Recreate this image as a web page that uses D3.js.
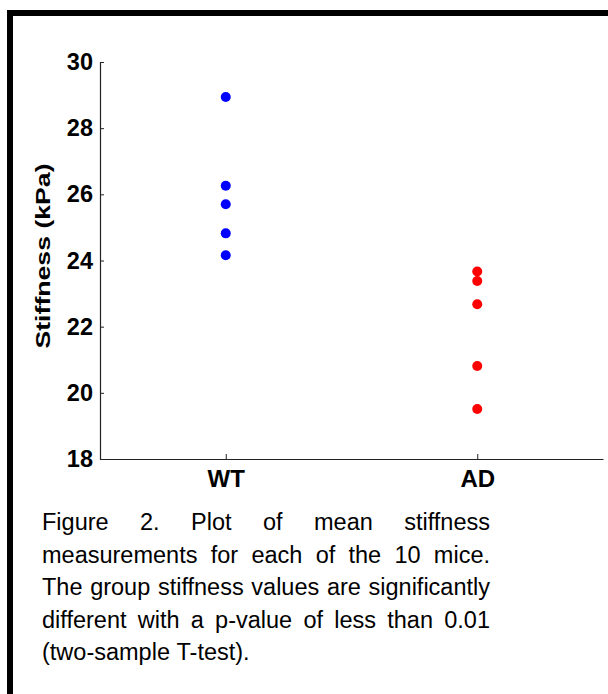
<!DOCTYPE html>
<html><head><meta charset="utf-8">
<script src="https://cdn.jsdelivr.net/npm/d3@7/dist/d3.min.js"></script>
<style>body{margin:0;background:#fff}svg{display:block}</style>
</head><body><svg id="c" width="608" height="694"></svg>
<script>
const categories = ["WT", "AD"];
const wtValues = [28.94, 26.26, 25.70, 24.82, 24.16];
const adValues = [23.67, 23.38, 22.68, 20.81, 19.51];
const yTicks = [18, 20, 22, 24, 26, 28, 30];
const yLabel = "Stiffness (kPa)";
const captionLines = [
  "Figure 2. Plot of mean stiffness",
  "measurements for each of the 10 mice.",
  "The group stiffness values are significantly",
  "different with a p-value of less than 0.01",
  "(two-sample T-test)."
];

const svg = d3.select("#c");
// frame
svg.append("rect").attr("x",7).attr("y",10).attr("width",601).attr("height",6).attr("fill","#000");
svg.append("rect").attr("x",7).attr("y",10).attr("width",6).attr("height",684).attr("fill","#000");

const x = d3.scaleLinear().domain([0.5, 2.5]).range([100, 603]);
const y = d3.scaleLinear().domain([18, 30]).range([459, 62]);

const font = "Liberation Sans, Arial, Helvetica, sans-serif";

// y axis
const ya = svg.append("g").attr("transform","translate(100,0)")
  .call(d3.axisLeft(y).tickValues(yTicks).tickSizeInner(-4).tickSizeOuter(0).tickPadding(7));
ya.select(".domain").attr("stroke","#222").attr("stroke-width",1.2);
ya.selectAll(".tick line").attr("stroke","#222");
ya.selectAll("text").attr("font-family",font).attr("font-weight","bold").attr("font-size",24).attr("fill","#000")
  .attr("transform","scale(1,0.92)").attr("y", function(){ return 0; });
ya.selectAll(".tick text").attr("transform",null).attr("font-size",23.5);

// x axis
const xa = svg.append("g").attr("transform","translate(0,459)")
  .call(d3.axisBottom(x).tickValues([1,2]).tickFormat((d,i)=>categories[i]).tickSizeInner(-5).tickSizeOuter(0).tickPadding(11));
xa.select(".domain").attr("stroke","#222").attr("stroke-width",1.2);
xa.selectAll(".tick line").attr("stroke","#222");
xa.selectAll("text").attr("font-family",font).attr("font-weight","bold").attr("font-size",24).attr("fill","#000");

// y label
svg.append("text").attr("transform","translate(43,256) rotate(-90) scale(1.3,1)")
  .attr("text-anchor","middle").attr("dominant-baseline","central")
  .attr("font-family",font).attr("font-weight","bold").attr("font-size",20.5).text(yLabel);

// points
svg.append("g").selectAll("circle").data(wtValues).join("circle")
  .attr("cx",x(1)).attr("cy",d=>y(d)).attr("r",5).attr("fill","#0000ff");
svg.append("g").selectAll("circle").data(adValues).join("circle")
  .attr("cx",x(2)).attr("cy",d=>y(d)).attr("r",5).attr("fill","#ff0000");

// caption, justified
const left = 42, right = 490, base0 = 530, lh = 32.5;
captionLines.forEach((line, li) => {
  const words = line.split(" ");
  const g = svg.append("g");
  const ws = words.map(w => g.append("text").attr("font-family",font).attr("font-size",23.5).attr("fill","#000").attr("y", base0 + li*lh).text(w));
  const widths = ws.map(t => t.node().getComputedTextLength());
  const total = d3.sum(widths);
  const last = li === captionLines.length - 1;
  const gap = last ? 23.5*0.278 : (right - left - total) / (words.length - 1);
  let cx = left;
  ws.forEach((t,i) => { t.attr("x", cx); cx += widths[i] + gap; });
});
</script></body></html>
